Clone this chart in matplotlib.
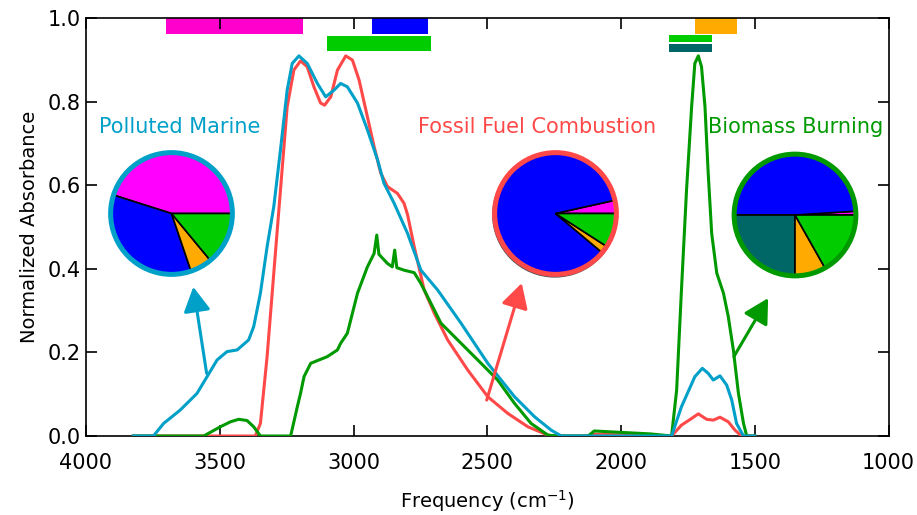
"""
Normalized IR absorbance spectra for three aerosol source types,
with functional-group pies and band markers.
"""
import matplotlib

matplotlib.use("Agg")
import matplotlib.pyplot as plt
from matplotlib.patches import Circle

# ----------------------------------------------------------------------
# Data
# ----------------------------------------------------------------------
marine_freq = [3823, 3748, 3710, 3648, 3585, 3510, 3473, 3435, 3392, 3373,
               3348, 3323, 3298, 3273, 3248, 3229, 3204, 3173, 3135, 3104,
               3073, 3048, 3023, 2985, 2948, 2910, 2886, 2848, 2798, 2748,
               2686, 2598, 2498, 2398, 2323, 2261, 2223, 1811, 1774, 1724,
               1696, 1674, 1655, 1630, 1605, 1586, 1568, 1542, 1500]
marine_abs = [0, 0, 0.030, 0.062, 0.102, 0.182, 0.202, 0.206, 0.230, 0.262,
              0.342, 0.453, 0.549, 0.685, 0.828, 0.892, 0.910, 0.892, 0.844, 0.812,
              0.828, 0.844, 0.836, 0.797, 0.733, 0.661, 0.605, 0.557, 0.485, 0.397,
              0.350, 0.270, 0.174, 0.094, 0.046, 0.014, 0, 0, 0.070, 0.142,
              0.162, 0.150, 0.134, 0.144, 0.122, 0.086, 0.030, 0, 0]

fossil_freq = [3823, 3367, 3348, 3323, 3298, 3273, 3248, 3223, 3198, 3173,
               3148, 3123, 3108, 3085, 3060, 3029, 3004, 2979, 2948, 2923,
               2898, 2873, 2836, 2811, 2798, 2773, 2736, 2698, 2648, 2573,
               2498, 2423, 2348, 2273, 2248, 2123, 2100, 1890, 1811, 1774,
               1736, 1711, 1680, 1655, 1630, 1599, 1574, 1549, 1500]
fossil_abs = [0, 0, 0.030, 0.190, 0.390, 0.589, 0.788, 0.876, 0.898, 0.884,
              0.836, 0.797, 0.792, 0.812, 0.876, 0.910, 0.900, 0.852, 0.764, 0.693,
              0.629, 0.597, 0.581, 0.557, 0.530, 0.453, 0.350, 0.294, 0.230, 0.158,
              0.094, 0.054, 0.022, 0.002, 0, 0, 0.004, 0.002, 0, 0.026,
              0.042, 0.053, 0.040, 0.038, 0.045, 0.034, 0.014, 0, 0]

biomass_freq = [3823, 3560, 3498, 3460, 3429, 3398, 3373, 3348, 3235, 3210,
                3198, 3185, 3160, 3098, 3060, 3048, 3023, 2985, 2948, 2923,
                2913, 2905, 2873, 2855, 2846, 2838, 2811, 2773, 2748, 2736,
                2673, 2598, 2523, 2461, 2398, 2336, 2273, 2236, 2123, 2100,
                1890, 1811, 1792, 1774, 1755, 1736, 1724, 1711, 1699, 1686,
                1674, 1661, 1642, 1617, 1599, 1580, 1561, 1542, 1530, 1500]
biomass_abs = [0, 0, 0.022, 0.034, 0.040, 0.037, 0.022, 0, 0, 0.070,
               0.102, 0.142, 0.174, 0.190, 0.206, 0.222, 0.246, 0.342, 0.405, 0.437,
               0.481, 0.435, 0.413, 0.405, 0.445, 0.403, 0.397, 0.391, 0.365, 0.350,
               0.270, 0.222, 0.174, 0.134, 0.078, 0.030, 0.002, 0, 0, 0.012,
               0.005, 0, 0.110, 0.350, 0.589, 0.788, 0.892, 0.910, 0.884, 0.788,
               0.629, 0.485, 0.390, 0.342, 0.286, 0.206, 0.102, 0.030, 0, 0]

# functional-group pies: magenta, blue, teal, orange, green (ccw from 0 deg)
group_colors = ["#FF00FF", "#0000FF", "#006666", "#FFAA00", "#00CC00"]
marine_pie = [0.451, 0.351, 0.0, 0.058, 0.140]
fossil_pie = [0.035, 0.854, 0.0, 0.020, 0.091]
biomass_pie = [0.010, 0.490, 0.250, 0.082, 0.168]

# band markers along the top (frequency range, absorbance range)
band_start = [3700, 2930, 1725, 3100, 1820, 1820]
band_end = [3190, 2720, 1565, 2710, 1660, 1660]
band_low = [0.963, 0.963, 0.963, 0.922, 0.943, 0.920]
band_high = [1.0, 1.0, 1.0, 0.958, 0.960, 0.938]
band_colors = ["#FF00CC", "#0000FF", "#FFAA00", "#00CC00", "#00CC00", "#006666"]

# ----------------------------------------------------------------------
# Styles
# ----------------------------------------------------------------------
C_MARINE = "#00A0C8"
C_FOSSIL = "#FF4848"
C_BIOMASS = "#009900"
FONT = 15

plt.rcParams["font.family"] = ["DejaVu Sans"]

W, H = 917, 515
fig = plt.figure(figsize=(W / 100, H / 100), dpi=100)
ax = fig.add_axes([86 / W, 1 - 436 / H, (888.5 - 86) / W, (436 - 18.3) / H])

# bands first so the curves sit on top
for s, e, lo, hi, c in zip(band_start, band_end, band_low, band_high, band_colors):
    ax.fill_between([s, e], [lo, lo], [hi, hi], color=c, linewidth=0,
                    zorder=1, clip_on=False)

lw = 2.2
ax.plot(fossil_freq, fossil_abs, color=C_FOSSIL, lw=lw, zorder=3)
ax.plot(biomass_freq, biomass_abs, color=C_BIOMASS, lw=lw, zorder=3)
ax.plot(marine_freq, marine_abs, color=C_MARINE, lw=lw, zorder=4)

ax.set_xlim(4000, 1000)
ax.set_ylim(0, 1.0)
ax.set_xticks([4000, 3500, 3000, 2500, 2000, 1500, 1000])
ax.set_yticks([0.0, 0.2, 0.4, 0.6, 0.8, 1.0])
ax.set_yticklabels(["0.0", "0.2", "0.4", "0.6", "0.8", "1.0"])
ax.tick_params(direction="in", length=8, width=1.2, labelsize=FONT,
               top=True, right=True)
ax.tick_params(axis="x", pad=12)
ax.tick_params(axis="y", pad=4)
for sp in ax.spines.values():
    sp.set_linewidth(1.2)

ax.set_xlabel("Frequency (cm$^{-1}$)", fontsize=14, labelpad=11)
ax.set_ylabel("Normalized Absorbance", fontsize=14, labelpad=6)

# source labels
ax.text(3649, 0.740, "Polluted Marine", color=C_MARINE, fontsize=FONT,
        ha="center", va="center")
ax.text(2312, 0.740, "Fossil Fuel Combustion", color=C_FOSSIL, fontsize=FONT,
        ha="center", va="center")
ax.text(1348, 0.740, "Biomass Burning", color=C_BIOMASS, fontsize=FONT,
        ha="center", va="center")

# arrows from the curves to the pies
arrow_kw = dict(arrowstyle="-|>,head_length=1.0,head_width=0.55",
                lw=2.2, mutation_scale=15, shrinkA=0, shrinkB=0)
ax.annotate("", xy=(3599, 0.357), xytext=(3549, 0.150),
            arrowprops=dict(color=C_MARINE, **arrow_kw), zorder=5)
ax.annotate("", xy=(2371, 0.366), xytext=(2502, 0.086),
            arrowprops=dict(color=C_FOSSIL, **arrow_kw), zorder=5)
ax.annotate("", xy=(1450, 0.330), xytext=(1578, 0.190),
            arrowprops=dict(color=C_BIOMASS, **arrow_kw), zorder=5)


def draw_pie(cx, cy, fracs, ring_color, size=140, shadow=False):
    """Draw a pie chart centred on pixel (cx, cy) of the figure."""
    pax = fig.add_axes([(cx - size / 2) / W, 1 - (cy + size / 2) / H,
                        size / W, size / H])
    if shadow:
        pax.add_patch(Circle((-0.01, -0.022), 1.02, color="#555555", zorder=0))
    keep = [(v, c) for v, c in zip(fracs, group_colors) if v > 0]
    wedges, _ = pax.pie([k[0] for k in keep], colors=[k[1] for k in keep],
                        startangle=0, counterclock=True, radius=1.0,
                        wedgeprops=dict(edgecolor="black", linewidth=1.2))
    for w in wedges:
        w.set_zorder(1)
    pax.add_patch(Circle((0, 0), 1.0, fill=False, edgecolor=ring_color,
                         linewidth=3.6, zorder=2))
    pax.set_xlim(-1.15, 1.15)
    pax.set_ylim(-1.15, 1.15)
    pax.set_aspect("equal")
    pax.axis("off")


draw_pie(171.5, 213.5, marine_pie, C_MARINE)
draw_pie(555.5, 213.5, fossil_pie, C_FOSSIL, shadow=True)
draw_pie(795.0, 215.0, biomass_pie, C_BIOMASS)

fig.savefig("out.png", dpi=100)
plt.close(fig)
